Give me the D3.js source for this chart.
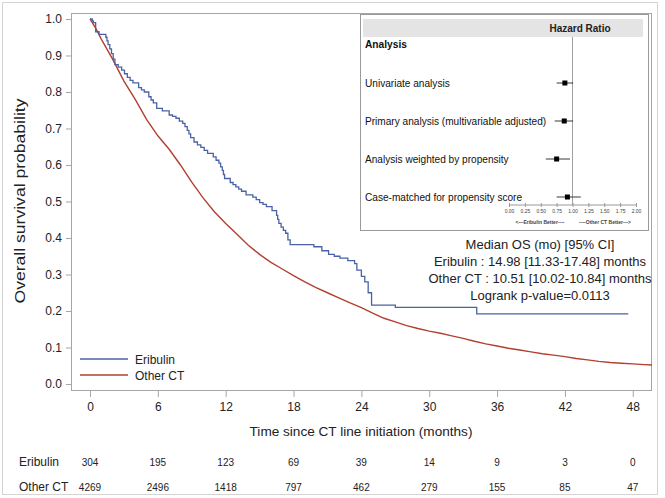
<!DOCTYPE html>
<html><head><meta charset="utf-8">
<script src="https://cdn.jsdelivr.net/npm/d3@7"></script>
<style>body{margin:0;background:#fff}svg{display:block}text{font-family:"Liberation Sans",Arial,sans-serif}</style>
</head><body><svg id="c" width="665" height="498"></svg>
<script>
// ---- data ----
const xTicks = [0, 6, 12, 18, 24, 30, 36, 42, 48];
const yTicks = [0, 0.1, 0.2, 0.3, 0.4, 0.5, 0.6, 0.7, 0.8, 0.9, 1.0];
const seriesNames = ["Eribulin", "Other CT"];
const eribulinKM = [[0,1.0],[0.2,0.995],[0.3,0.99],[0.5,0.965],[0.8,0.958],[1.4,0.95],[1.5,0.94],[1.6,0.93],[1.75,0.918],[1.9,0.905],[2.05,0.89],[2.2,0.875],[2.5,0.868],[2.8,0.86],[3.05,0.85],[3.3,0.84],[3.55,0.832],[3.8,0.825],[4.3,0.812],[4.55,0.806],[4.8,0.80],[5.2,0.787],[5.4,0.778],[5.6,0.77],[5.9,0.755],[6.4,0.748],[7.0,0.737],[7.3,0.733],[7.6,0.728],[7.9,0.72],[8.2,0.714],[8.4,0.705],[8.6,0.695],[8.75,0.685],[8.9,0.675],[9.2,0.663],[9.5,0.655],[9.8,0.648],[10.1,0.64],[10.4,0.632],[10.9,0.622],[11.15,0.613],[11.4,0.605],[11.55,0.595],[11.7,0.585],[11.8,0.574],[11.9,0.563],[12.4,0.552],[12.65,0.546],[12.9,0.54],[13.15,0.534],[13.4,0.528],[13.8,0.518],[14.4,0.512],[14.7,0.505],[15.0,0.497],[15.3,0.492],[15.6,0.486],[16.1,0.475],[16.5,0.462],[16.6,0.451],[16.7,0.44],[16.9,0.43],[17.1,0.421],[17.3,0.413],[17.5,0.395],[17.7,0.382],[19.8,0.376],[20.5,0.365],[21.1,0.355],[21.6,0.35],[22.1,0.345],[22.8,0.338],[23.4,0.33],[23.6,0.312],[24.0,0.295],[24.3,0.28],[24.6,0.25],[24.9,0.216],[27.0,0.21],[34.2,0.192],[47.6,0.192]];
const otherKM = [[0,1.0],[0.5,0.975],[1,0.945],[2,0.89],[3,0.83],[4,0.78],[5,0.725],[6,0.68],[7,0.643],[8,0.6],[9,0.553],[10,0.51],[11,0.472],[12,0.44],[13,0.41],[14,0.38],[15,0.355],[16,0.333],[17,0.315],[18,0.297],[19,0.28],[20,0.264],[21,0.25],[22,0.236],[23,0.222],[24,0.209],[25,0.194],[26,0.18],[27,0.17],[28,0.16],[29,0.152],[30,0.145],[31,0.139],[32,0.132],[33,0.125],[34,0.117],[35,0.11],[36,0.104],[37,0.098],[38,0.093],[39,0.088],[40,0.083],[41,0.079],[42,0.075],[43,0.07],[44,0.066],[45,0.062],[46,0.059],[47,0.057],[48,0.055],[49,0.053],[49.7,0.052]];
const atRiskEribulin = [304, 195, 123, 69, 39, 14, 9, 3, 0];
const atRiskOther = [4269, 2496, 1418, 797, 462, 279, 155, 85, 47];
const hrLabels = ["Univariate analysis", "Primary analysis (multivariable adjusted)", "Analysis weighted by propensity", "Case-matched for propensity score"];
const hrEst = [0.88, 0.87, 0.75, 0.92];
const hrLow = [0.75, 0.72, 0.58, 0.75];
const hrHigh = [1.01, 1.01, 0.96, 1.13];
const hrTicks = [0, 0.25, 0.5, 0.75, 1, 1.25, 1.5, 1.75, 2];
const medianText = ["Median OS (mo) [95% CI]", "Eribulin : 14.98 [11.33-17.48] months", "Other CT : 10.51 [10.02-10.84] months", "Logrank p-value=0.0113"];

// ---- drawing ----
const svg = d3.select("#c");
const colors = {"Eribulin": "#4a62a6", "Other CT": "#b2402f"};
const frameCol = "#a6a6a6", textCol = "#222";

svg.append("rect").attr("x", 2.5).attr("y", 2.5).attr("width", 655).attr("height", 492)
  .attr("fill", "none").attr("stroke", "#d4d4d4");

const L = 71, R = 652, T = 13, B = 391;
const x = d3.scaleLinear().domain([-1.68, 49.7]).range([L, R]);
const y = d3.scaleLinear().domain([-0.0192, 1.0164]).range([B, T]);

svg.append("rect").attr("x", L + 0.5).attr("y", T + 0.5).attr("width", R - L - 1).attr("height", B - T - 1)
  .attr("fill", "none").attr("stroke", frameCol);

const yAx = svg.append("g").attr("transform", `translate(${L},0)`)
  .call(d3.axisLeft(y).tickValues(yTicks).tickFormat(d3.format(".1f")).tickSize(5).tickPadding(4));
yAx.select(".domain").remove();
yAx.selectAll("line").attr("stroke", frameCol);
yAx.selectAll("text").attr("font-size", 12).attr("fill", textCol).attr("font-family", "Liberation Sans, Arial, sans-serif");

const xAx = svg.append("g").attr("transform", `translate(0,${B})`)
  .call(d3.axisBottom(x).tickValues(xTicks).tickSize(6).tickPadding(5));
xAx.select(".domain").remove();
xAx.selectAll("line").attr("stroke", frameCol);
xAx.selectAll("text").attr("font-size", 12).attr("fill", textCol).attr("font-family", "Liberation Sans, Arial, sans-serif");

svg.append("text").attr("x", 361).attr("y", 436).attr("text-anchor", "middle").attr("font-size", 13.6)
  .attr("fill", textCol).text("Time since CT line initiation (months)");
svg.append("text").attr("transform", "translate(25,201) rotate(-90)").attr("text-anchor", "middle")
  .attr("font-size", 14).attr("textLength", 205).attr("lengthAdjust", "spacingAndGlyphs")
  .attr("fill", textCol).text("Overall survival probability");

// curves
const stepLine = d3.line().x(d => x(d[0])).y(d => y(d[1])).curve(d3.curveStepAfter);
const smoothLine = d3.line().x(d => x(d[0])).y(d => y(d[1])).curve(d3.curveLinear);
svg.append("path").datum(otherKM).attr("d", smoothLine).attr("fill", "none").attr("stroke", colors["Other CT"]).attr("stroke-width", 1.4);
svg.append("path").datum(eribulinKM).attr("d", stepLine).attr("fill", "none").attr("stroke", colors["Eribulin"]).attr("stroke-width", 1.3);

// legend
seriesNames.forEach((n, i) => {
  const ly = 359 + i * 16;
  svg.append("line").attr("x1", 80).attr("x2", 128).attr("y1", ly).attr("y2", ly).attr("stroke", colors[n]).attr("stroke-width", 1.3);
  svg.append("text").attr("x", 135).attr("y", ly + 4.5).attr("font-size", 12).attr("fill", textCol).text(n);
});

// number at risk
[[seriesNames[0], atRiskEribulin, 462], [seriesNames[1], atRiskOther, 487]].forEach(([n, vals, ry]) => {
  svg.append("text").attr("x", 19).attr("y", ry + 4).attr("font-size", 12).attr("fill", textCol).text(n);
  vals.forEach((v, i) => {
    svg.append("text").attr("x", x(xTicks[i])).attr("y", ry + 3.5).attr("text-anchor", "middle")
      .attr("font-size", 10).attr("fill", textCol).text(v);
  });
});

// forest inset
const fb = {l: 360, t: 14, r: 648, b: 230};
svg.append("rect").attr("x", fb.l + 0.5).attr("y", fb.t + 0.5).attr("width", fb.r - fb.l).attr("height", fb.b - fb.t)
  .attr("fill", "#fff").attr("stroke", "#9a9a9a");
svg.append("rect").attr("x", 363).attr("y", 19).attr("width", 280).attr("height", 18).attr("fill", "#e4e4e4");
svg.append("text").attr("x", 580).attr("y", 32).attr("text-anchor", "middle").attr("font-size", 10).attr("font-weight", "bold")
  .attr("fill", textCol).text("Hazard Ratio");
svg.append("text").attr("x", 365).attr("y", 48).attr("font-size", 10.2).attr("font-weight", "bold").attr("fill", "#111").text("Analysis");

const hx = d3.scaleLinear().domain([0, 2]).range([509, 636]);
const rowY = d3.scalePoint().domain(hrLabels).range([83, 197]);
svg.append("line").attr("x1", hx(1)).attr("x2", hx(1)).attr("y1", 37).attr("y2", 205).attr("stroke", "#a0a0a0");
hrLabels.forEach((lab, i) => {
  const cy = rowY(lab);
  svg.append("text").attr("x", 365).attr("y", cy + 3.5).attr("font-size", 10.1).attr("fill", "#111").text(lab);
  svg.append("line").attr("x1", hx(hrLow[i])).attr("x2", hx(hrHigh[i])).attr("y1", cy).attr("y2", cy).attr("stroke", "#222").attr("stroke-width", 0.9);
  svg.append("rect").attr("x", hx(hrEst[i]) - 2.5).attr("y", cy - 2.5).attr("width", 5).attr("height", 5).attr("fill", "#000");
});
const hAx = svg.append("g").attr("transform", "translate(0,205)")
  .call(d3.axisBottom(hx).tickValues(hrTicks).tickFormat(d3.format(".2f")).tickSize(2).tickPadding(2));
hAx.select(".domain").attr("stroke", "#999").attr("d", `M${hx(0)},0H${hx(2)}`);
hAx.selectAll("line").attr("stroke", "#999").attr("y1", -2).attr("y2", 2);
hAx.selectAll("text").attr("font-size", 5).attr("fill", "#444").attr("font-family", "Liberation Sans, Arial, sans-serif");
svg.append("text").attr("x", 540).attr("y", 224).attr("text-anchor", "middle").attr("font-size", 5).attr("font-weight", "bold").attr("fill", "#444").text("<---Eribulin Better----");
svg.append("text").attr("x", 605).attr("y", 224).attr("text-anchor", "middle").attr("font-size", 5).attr("font-weight", "bold").attr("fill", "#444").text("----Other CT Better--->");

// median text
medianText.forEach((t, i) => {
  svg.append("text").attr("x", 540).attr("y", 248.5 + i * 17).attr("text-anchor", "middle").attr("font-size", 13)
    .attr("fill", textCol).text(t);
});
</script></body></html>
